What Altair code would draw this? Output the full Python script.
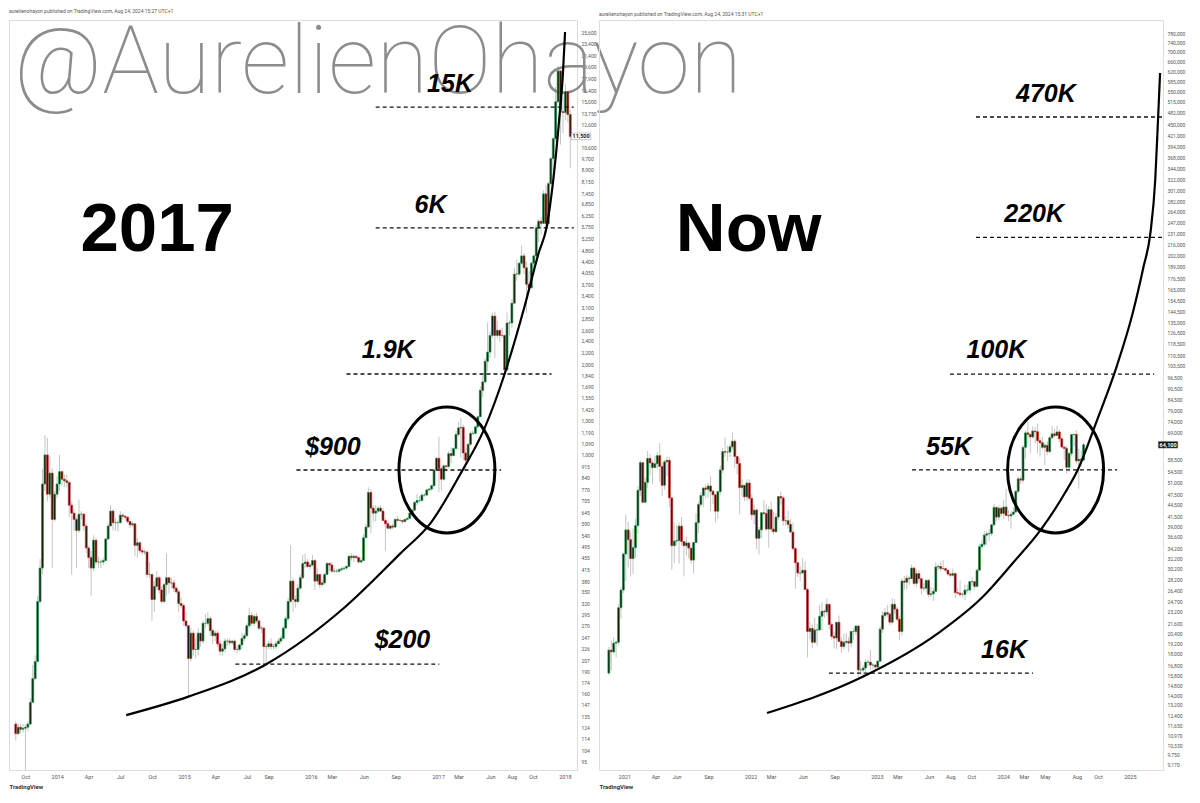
import math
import altair as alt
import pandas as pd

# ---------------- LEFT PANEL: BTC weekly candles, first week 2013-09-02 ----------------
L_START = "2013-09-02"
L_FIRST_OPEN = 127
L_CLOSE = [
    118, 124, 122, 123, 124, 127, 150, 180, 205, 325, 420, 800, 1000, 740, 870, 610, 740, 800,
    880, 830, 820, 810, 680, 640, 610, 560, 635, 635, 580, 490, 455, 420, 520, 440, 440, 440, 445, 525, 580,
    650, 595, 595, 595, 630, 625, 620, 600, 585, 590, 500, 510, 480, 475, 475, 400, 400, 330, 365, 390, 355, 325,
    370, 390, 375, 375, 360, 350, 320, 315, 280,
    270, 210, 255, 225, 225, 255, 240, 275, 275, 285, 260, 250, 255, 235, 222, 226, 240, 240, 237, 240, 225,
    225, 233, 245, 250, 270, 292, 275, 290, 280, 265, 265, 230, 230, 235, 230, 230, 235, 240, 245, 265, 285, 325,
    380, 330, 325, 360, 390, 435, 440, 425, 430,
    445, 380, 400, 370, 375, 400, 435, 430, 410, 410, 410, 415, 418, 420, 425, 460, 455, 460, 455, 440, 445, 530,
    575, 750, 665, 640, 650, 665, 650, 605, 590, 570, 580, 575, 610, 605, 605, 600, 610, 615, 640, 655, 695, 705,
    705, 735, 735, 765, 770, 790, 890, 975,
    900, 830, 920, 915, 1010, 995, 1050, 1170, 1230, 1235, 1015, 960, 1085, 1180, 1180, 1240, 1340,
    1640, 1750, 2050, 2200, 2500, 2900, 2500, 2600, 2500, 2500, 1920, 2750, 2750, 3200, 4000, 4000, 4350, 4600,
    4200, 3700, 3600, 4350, 4600, 5700, 6000, 5900, 7400, 5900, 8000, 9700, 11300, 15000, 19000, 13900, 13800,
    16200, 13600, 11500,
]
L_HIGH = [
    130, 128, 127, 127, 127, 130, 155, 200, 215, 340, 450, 900, 1165, 1140, 990, 900, 760, 850,
    1000, 880, 860, 860, 820, 700, 660, 620, 710, 650, 640, 590, 500, 480, 540, 530, 460, 450, 455, 530, 595,
    680, 660, 615, 605, 650, 640, 630, 625, 600, 600, 585, 530, 515, 490, 485, 480, 440, 400, 380, 410, 395, 365,
    375, 470, 390, 390, 385, 365, 355, 335, 320,
    300, 270, 265, 260, 245, 265, 255, 280, 295, 300, 290, 265, 260, 260, 240, 235, 245, 245, 245, 242, 243,
    232, 235, 255, 255, 275, 310, 300, 295, 298, 285, 270, 268, 235, 240, 245, 235, 240, 245, 250, 270, 290, 335,
    500, 390, 340, 370, 400, 465, 470, 450, 440,
    465, 450, 420, 400, 385, 405, 440, 440, 440, 420, 418, 420, 425, 425, 430, 465, 470, 465, 460, 455, 455, 545,
    590, 780, 770, 680, 680, 675, 680, 665, 615, 600, 585, 590, 615, 625, 612, 608, 612, 620, 645, 660, 700, 740,
    730, 750, 745, 770, 775, 795, 900, 980,
    1150, 910, 930, 925, 1030, 1060, 1060, 1200, 1290, 1330, 1260, 1060, 1100, 1200, 1210, 1250, 1350,
    1690, 1850, 2100, 2760, 2580, 2980, 3000, 2800, 2600, 2650, 2500, 2980, 2800, 3300, 4200, 4480, 4390, 4980,
    4700, 4400, 4100, 4400, 4650, 5850, 6100, 6200, 7600, 7900, 8100, 9800, 11400, 16800, 19700, 19100, 15500,
    17200, 16300, 14100,
]
L_LOW = [
    112, 117, 118, 119, 86, 120, 126, 150, 178, 205, 320, 400, 760, 700, 720, 420, 600, 720,
    760, 790, 780, 780, 620, 400, 560, 420, 550, 610, 560, 470, 420, 340, 410, 430, 420, 420, 430, 445, 520,
    580, 560, 560, 555, 590, 610, 605, 590, 570, 575, 460, 455, 470, 465, 465, 390, 390, 280, 300, 355, 345, 320,
    320, 340, 345, 360, 350, 345, 300, 310, 270,
    265, 155, 205, 215, 210, 215, 230, 235, 265, 270, 250, 235, 240, 230, 215, 215, 220, 232, 232, 233, 222,
    218, 222, 225, 240, 248, 265, 270, 270, 275, 260, 255, 195, 200, 225, 225, 225, 225, 235, 235, 245, 265, 280,
    320, 300, 310, 320, 355, 385, 420, 420, 415,
    425, 355, 370, 360, 365, 370, 400, 410, 405, 405, 405, 405, 410, 415, 415, 425, 445, 440, 450, 435, 435, 445,
    535, 575, 550, 600, 600, 640, 645, 600, 480, 565, 565, 565, 570, 600, 600, 590, 595, 605, 610, 630, 650, 680,
    695, 700, 725, 730, 755, 760, 785, 880,
    750, 760, 820, 880, 900, 940, 990, 1045, 1150, 980, 960, 890, 940, 1070, 1160, 1170, 1230,
    1340, 1560, 1730, 1900, 2100, 2450, 2100, 2450, 2380, 2450, 1840, 1900, 2500, 2650, 3200, 3800, 3950, 4300,
    4000, 2970, 3500, 3600, 4150, 4550, 5100, 5400, 5900, 5500, 5800, 7900, 8800, 11000, 14800, 10800, 11800,
    13000, 12800, 9000,
]

# ---------------- RIGHT PANEL: BTC weekly candles, first week 2020-11-16 ----------------
R_START = "2020-11-16"
R_FIRST_OPEN = 16000
R_CLOSE = [
    18400, 18200, 19200, 19300, 23800, 26500, 33000,
    38200, 36000, 32100, 34300, 39200, 48600, 57500, 45200, 51000, 59000, 57400, 55800, 57100,
    60000, 56200, 50100, 57800, 58300, 46400, 34700, 35700, 35800, 39100, 35600, 34700, 35300,
    34200, 31800, 35400, 39900, 44600, 47100, 49300, 48900, 49900, 48300, 47300, 42800, 48200,
    55000, 61500, 61300, 61300, 63300, 65500, 59700, 57200, 49400, 50100, 46700, 50800, 46300,
    41900, 43100, 36300, 38200, 42400, 42200, 38400, 43200, 38400, 37800, 41300, 46800, 46400,
    40400, 40400, 39500, 37700, 34100, 31300, 29400, 29400, 29900, 26600, 20600, 21000, 19300,
    20800, 20800, 22600, 23300, 23200, 24300, 21500, 20000, 19800, 21800, 19400, 18800, 19300,
    19400, 19200, 20600, 20600, 21300, 16300, 16300, 16500, 17100, 17100, 16800, 16800, 16600,
    17200, 20900, 22700, 23100, 22900, 21800, 24300, 23600, 22200, 20600, 28000, 27800, 28500,
    28400, 30300, 27600, 29300, 28400, 26800, 26800, 28100, 25800, 25900, 26300, 30500, 30600,
    30200, 30200, 29900, 29200, 29000, 29300, 26100, 26000, 25800, 25800, 26500, 26500, 27900,
    27900, 27100, 29900, 34500, 35000, 37000, 37300, 37400, 39400, 43800, 41300, 43600, 42200,
    43900, 41700, 41600, 42000, 42600, 48300, 52100, 51700, 63100, 68900, 68300, 67200, 69700,
    69400, 65700, 64900, 63100, 63900, 61500, 66900, 68500, 67800, 69300, 66500, 63200, 62700,
    55900, 60800, 68200, 68300, 58100, 58700, 58400, 64100,
]
R_HIGH = [
    18800, 19500, 19900, 19500, 24300, 27000, 33300,
    42000, 40100, 37800, 38500, 40900, 49700, 58300, 57500, 52600, 61700, 60600, 58400, 60000,
    61200, 64800, 57500, 58400, 59600, 59500, 46600, 40000, 39400, 40000, 41300, 35700, 36600,
    35000, 34000, 35500, 42300, 45300, 48100, 49400, 50500, 51000, 52900, 48800, 47300, 48500,
    56600, 62900, 67000, 63700, 64300, 69000, 66300, 59600, 59200, 51900, 50100, 51900, 52000,
    47500, 44500, 43500, 38900, 42600, 45800, 44700, 44100, 45400, 42600, 42300, 47000, 48200,
    47000, 41500, 42900, 40800, 40000, 34400, 31300, 30600, 32200, 31600, 26900, 21800, 21500,
    22400, 21600, 24200, 24600, 23600, 25200, 24400, 21800, 20600, 21800, 22700, 19900, 20300,
    20400, 19900, 20700, 21000, 21400, 21400, 17200, 16800, 17400, 17400, 18400, 17000, 16900,
    17300, 21300, 23300, 23800, 24200, 23200, 25200, 25100, 23900, 22600, 28400, 28900, 29100,
    28800, 31000, 30500, 30000, 29900, 28500, 27600, 28300, 28400, 27000, 26800, 31400, 31000,
    31500, 31800, 30400, 30000, 29500, 30200, 29500, 26800, 28100, 26100, 27400, 27400, 28000,
    28600, 28000, 30200, 35200, 35900, 38000, 37900, 38400, 39600, 44700, 44000, 44300, 43800,
    45900, 49000, 43200, 42800, 43800, 48600, 52800, 52900, 64000, 69900, 73800, 68200, 71700,
    71300, 72800, 66900, 67200, 64700, 65500, 67700, 71900, 70600, 71900, 70200, 67000, 63400,
    63800, 61300, 68400, 68500, 70100, 62700, 61800, 65000,
]
R_LOW = [
    15800, 16300, 18000, 17600, 19000, 22300, 26000,
    28000, 30400, 28800, 29200, 32300, 37300, 47000, 44900, 45000, 49300, 53200, 50400, 55500,
    55500, 51200, 47000, 48800, 53000, 43800, 30000, 31200, 34700, 31100, 34800, 28800, 32700,
    32100, 31100, 29300, 35200, 37500, 43800, 43900, 46300, 46500, 42800, 44700, 40000, 40800,
    47200, 53900, 59600, 58000, 59400, 62300, 55600, 53500, 42000, 46800, 45500, 45500, 45700,
    40600, 39600, 34000, 32900, 36300, 41700, 38000, 34300, 37600, 37200, 37500, 40500, 44500,
    39200, 39200, 38600, 37600, 33700, 26700, 28700, 28000, 29300, 26600, 17600, 19700, 18600,
    19100, 18900, 20700, 20700, 22400, 22700, 20800, 19600, 18600, 18500, 19300, 18100, 18500,
    19000, 18200, 18700, 19600, 20200, 15600, 15800, 15500, 16100, 16700, 16300, 16400, 16300,
    16500, 17100, 20400, 22300, 22500, 21400, 21500, 22900, 21900, 19600, 20100, 26600, 26600,
    27300, 28300, 27200, 27000, 27700, 25800, 26300, 26100, 25400, 25400, 24800, 26200, 29900,
    29700, 29900, 29600, 28900, 28600, 28800, 25200, 25800, 25400, 25400, 24900, 26100, 26000,
    27200, 26600, 27100, 29800, 34000, 34500, 34800, 35700, 36900, 39000, 40200, 40500, 41500,
    40800, 41500, 40300, 38500, 41800, 42300, 47700, 50600, 50900, 59000, 64500, 60800, 66500,
    64500, 60700, 59600, 62300, 56500, 60200, 60800, 66300, 67100, 67600, 65100, 63200, 58400,
    53700, 54300, 59900, 63600, 57100, 49100, 56100, 57800,
]

# ---------------- annotations ----------------
L_LEVEL_PRICE = [14400, 5700, 1860, 891, 201]
L_LEVEL_START = ["2016-07-04", "2016-07-04", "2016-04-11", "2015-11-19", "2015-05-27"]
L_LEVEL_END = ["2018-01-25", "2018-01-25", "2017-11-22", "2017-06-30", "2017-01-03"]
L_LABEL = ["15K", "6K", "1.9K", "$900", "$200"]
L_LABEL_DATE = ["2017-02-03", "2016-12-09", "2016-08-09", "2016-03-03", "2016-09-19"]
L_LABEL_PRICE = [16160, 6390, 2100, 999, 227]
L_CURVE_DATE = ["2014-07-17", "2015-01-14", "2015-08-24", "2016-04-06", "2016-09-14", "2016-12-09",
                "2017-03-11", "2017-05-11", "2017-07-11", "2017-09-05", "2017-10-16", "2017-11-08",
                "2017-11-27", "2017-12-14", "2017-12-25", "2017-12-31"]
L_CURVE_PRICE = [136, 157, 201, 311, 471, 593, 890, 1210, 1874, 3108, 4703, 5740, 8228, 13035, 18690, 25600]
L_CIRCLE_DATE = ["2017-01-25"]
L_CIRCLE_PRICE = [891]
L_BIG = ["2017"]
L_BIG_DATE = ["2014-10-14"]
L_BIG_PRICE = [4772]
L_LAST = ["11,500"]
L_LAST_DATE = ["2018-02-15"]
L_LAST_PRICE = [11500]

R_LEVEL_PRICE = [470000, 226000, 98500, 55000, 16000]
R_LEVEL_START = ["2023-10-13", "2023-10-13", "2023-07-30", "2023-04-11", "2022-08-14"]
R_LEVEL_END = ["2025-04-20", "2025-04-20", "2025-03-11", "2024-11-24", "2024-03-26"]
R_LABEL = ["470K", "220K", "100K", "55K", "16K"]
R_LABEL_DATE = ["2024-05-02", "2024-03-29", "2023-12-11", "2023-07-27", "2024-01-02"]
R_LABEL_PRICE = [515000, 248000, 108600, 60200, 17530]
R_CURVE_DATE = ["2022-02-16", "2022-11-12", "2023-06-26", "2023-11-01", "2024-01-27", "2024-04-17",
                "2024-06-26", "2024-08-02", "2024-09-27", "2024-11-22", "2025-01-08", "2025-02-08",
                "2025-02-28", "2025-03-14", "2025-03-22", "2025-03-28"]
R_CURVE_PRICE = [12550, 15520, 20400, 25400, 31200, 38200, 47800, 55000, 74500, 102800, 142800, 188800,
                 232000, 320400, 461500, 614000]
R_CIRCLE_DATE = ["2024-05-30"]
R_CIRCLE_PRICE = [55000]
R_BIG = ["Now"]
R_BIG_DATE = ["2021-12-25"]
R_BIG_PRICE = [208100]
R_LAST = ["64,100"]
R_LAST_DATE = ["2025-04-20"]
R_LAST_PRICE = [64100]

WATERMARK = ["@AurelienOhayon"]
WATERMARK_DATE = ["2013-08-28"]
WATERMARK_PRICE = [16036]

L_HEADER = "aurelienohayon published on TradingView.com, Aug 24, 2024 15:27 UTC+1"
R_HEADER = "aurelienohayon published on TradingView.com, Aug 24, 2024 15:31 UTC+1"

# time-axis tick labels
L_XTICK_DATE = ["2013-10-01", "2014-01-01", "2014-04-01", "2014-07-01", "2014-10-01", "2015-01-01",
                "2015-04-01", "2015-07-01", "2015-09-01", "2016-01-01", "2016-03-01", "2016-06-01",
                "2016-09-01", "2017-01-01", "2017-03-01", "2017-06-01", "2017-08-01", "2017-10-01",
                "2018-01-01"]
L_XTICK_TEXT = ["Oct", "2014", "Apr", "Jul", "Oct", "2015", "Apr", "Jul", "Sep", "2016", "Mar", "Jun",
                "Sep", "2017", "Mar", "Jun", "Aug", "Oct", "2018"]
R_XTICK_DATE = ["2021-01-01", "2021-04-01", "2021-06-01", "2021-09-01", "2022-01-01", "2022-03-01",
                "2022-06-01", "2022-09-01", "2023-01-01", "2023-03-01", "2023-06-01", "2023-08-01",
                "2023-10-01", "2024-01-01", "2024-03-01", "2024-05-01", "2024-08-01", "2024-10-01",
                "2025-01-01"]
R_XTICK_TEXT = ["2021", "Apr", "Jun", "Sep", "2022", "Mar", "Jun", "Sep", "2023", "Mar", "Jun", "Aug",
                "Oct", "2024", "Mar", "May", "Aug", "Oct", "2025"]
# price-axis tick labels
L_YTICK = [25600, 23400, 21400, 19600, 17900, 16400, 15000, 13750, 12600, 10600, 9700, 8900, 8150,
           7450, 6850, 6250, 5750, 5250, 4800, 4400, 4050, 3700, 3400, 3100, 2850, 2600, 2400, 2200, 2000,
           1840, 1690, 1550, 1420, 1300, 1190, 1090, 1000, 915, 840, 770, 705, 645, 590, 540, 495, 455,
           415, 380, 350, 320, 295, 270, 247, 226, 207, 190, 174, 160, 147, 135, 124, 114, 104, 95]
R_YTICK = [780000, 740000, 700000, 660000, 620000, 585000, 550000, 515000, 482000, 450000, 421000,
           394000, 368000, 344000, 322000, 301000, 282000, 264000, 247000, 231000, 216000, 202000,
           189000, 176500, 165000, 154500, 144500, 135000, 126500, 118500, 110500, 103500, 96500,
           90500, 84500, 79000, 74000, 69000, 58500, 54500, 51000, 47500, 44500, 41500,
           39000, 36600, 34200, 32200, 30200, 28200, 26400, 24700, 23200, 21600, 20400, 19200, 18000,
           16800, 15800, 14800, 14000, 13200, 12400, 11650, 10970, 10330, 9750, 9170]

L_XDOMAIN = ["2013-08-28", "2018-01-20"]
R_XDOMAIN = ["2020-11-02", "2025-03-22"]
L_YDOMAIN = [89.3, 28070]
R_YDOMAIN = [8877, 847600]
PLOT_H = 750
L_W, R_W, GAP = 568, 564, 22

ELLIPSE = ("M0.762,0C0.762,-0.552,0.421,-1,0,-1C-0.421,-1,-0.762,-0.552,-0.762,0"
           "C-0.762,0.552,-0.421,1,0,1C0.421,1,0.762,0.552,0.762,0Z")


def make_candles(start, first_open, close, high, low):
    dates = pd.date_range(start, periods=len(close), freq="7D")
    opens = [first_open] + list(close[:-1])
    return pd.DataFrame({
        "date": dates.strftime("%Y-%m-%d"),
        "open": opens, "close": close, "high": high, "low": low,
        "dir": ["up" if c >= o else "down" for o, c in zip(opens, close)],
    })


def panel(cdl, xdom, ydom, xt_d, xt_t, yticks, lv_p, lv_s, lv_e, lb, lb_d, lb_p, cv_d, cv_p,
          el_d, el_p, big, big_d, big_p, last, last_d, last_p, last_dark, header, w, h,
          watermark=False):
    xs = alt.Scale(domain=xdom)
    ys = alt.Scale(type="log", domain=ydom, nice=False)
    xa = alt.Axis(labels=False, title="TradingView", titleAnchor="start",
                  titleFontSize=6, titleFontWeight="bold", titleColor="#333", titlePadding=13,
                  titleFont="Roboto", ticks=False, domain=False, grid=False)
    ya = alt.Axis(orient="right", values=yticks, format=",.0f", labelFontSize=5,
                  labelFont="Roboto", labelColor="#555", ticks=False, domain=False, grid=False,
                  title=None, labelPadding=4, labelOverlap=False)
    base = alt.Chart(cdl)
    wick = base.mark_rule(color="#bdbdbd", strokeWidth=0.9, clip=True).encode(
        x=alt.X("date:T", scale=xs, axis=xa),
        y=alt.Y("low:Q", scale=ys, axis=ya), y2="high:Q")
    body = base.mark_bar(width=1.9, fill="#151515", strokeWidth=0.7, clip=True).encode(
        x="date:T", y="open:Q", y2="close:Q",
        stroke=alt.Stroke("dir:N", scale=alt.Scale(domain=["up", "down"],
                                                   range=["#1f9a45", "#e0302a"]), legend=None))
    # x tick labels just under the plot area (6.5 px below the bottom edge)
    px_per_ln = h / math.log(ydom[1] / ydom[0])
    xl_price = ydom[0] * math.exp(-6.5 / px_per_ln)
    xlab = alt.Chart(pd.DataFrame({"date": xt_d, "t": xt_t, "price": [xl_price] * len(xt_d)})
                     ).mark_text(font="Roboto", fontSize=5.5, color="#555", align="center",
                                 baseline="middle").encode(x="date:T", y="price:Q", text="t:N")
    lvl = alt.Chart(pd.DataFrame({"price": lv_p, "start": lv_s, "end": lv_e})).mark_rule(
        color="#111", strokeWidth=1.3, strokeDash=[4, 3], clip=True).encode(
        x="start:T", x2="end:T", y="price:Q")
    crv = alt.Chart(pd.DataFrame({"date": cv_d, "price": cv_p})).mark_line(
        color="#000", strokeWidth=2.2, interpolate="monotone").encode(x="date:T", y="price:Q")
    ell = alt.Chart(pd.DataFrame({"date": el_d, "price": el_p})).mark_point(
        shape=ELLIPSE, size=15876, filled=False, color="#000", strokeWidth=3, opacity=1).encode(
        x="date:T", y="price:Q")
    lab = alt.Chart(pd.DataFrame({"label": lb, "date": lb_d, "price": lb_p})).mark_text(
        font="Liberation Sans", fontSize=25, fontWeight="bold", fontStyle="italic",
        align="center", baseline="alphabetic", color="#000").encode(
        x="date:T", y="price:Q", text="label:N")
    bigt = alt.Chart(pd.DataFrame({"label": big, "date": big_d, "price": big_p})).mark_text(
        font="Liberation Sans", fontSize=69, fontWeight="bold", align="center",
        baseline="alphabetic", color="#000").encode(x="date:T", y="price:Q", text="label:N")
    lastdf = pd.DataFrame({"label": last, "date": last_d, "price": last_p})
    lastbox = alt.Chart(lastdf).mark_text(
        font="Roboto", fontSize=5.5, fontWeight="bold", align="center", baseline="middle",
        color="#ffffff" if last_dark else "#222").encode(x="date:T", y="price:Q", text="label:N")
    lastbg = alt.Chart(lastdf).mark_point(
        shape="M-1,-0.34L1,-0.34L1,0.34L-1,0.34Z", size=380, filled=True,
        fill="#111" if last_dark else "#ffffff", stroke="#888", strokeWidth=0.5,
        opacity=1).encode(x="date:T", y="price:Q")
    layers = [wick, body, xlab, lvl, crv, ell, lab, bigt, lastbg, lastbox]
    if watermark:
        wm = alt.Chart(pd.DataFrame({"t": WATERMARK, "date": WATERMARK_DATE,
                                     "price": WATERMARK_PRICE})).mark_text(
            font="Roboto", fontWeight=100, fontSize=95, color="#8c8c8c", align="left",
            baseline="alphabetic").encode(x="date:T", y="price:Q", text="t:N")
        layers = [wick, wm] + layers[1:]
    return alt.layer(*layers).properties(
        width=w, height=h,
        title=alt.TitleParams(header, fontSize=5, font="Roboto", color="#555", anchor="start",
                              fontWeight="normal", offset=3))


left_df = make_candles(L_START, L_FIRST_OPEN, L_CLOSE, L_HIGH, L_LOW)
right_df = make_candles(R_START, R_FIRST_OPEN, R_CLOSE, R_HIGH, R_LOW)

left = panel(left_df, L_XDOMAIN, L_YDOMAIN, L_XTICK_DATE, L_XTICK_TEXT, L_YTICK, L_LEVEL_PRICE,
             L_LEVEL_START, L_LEVEL_END, L_LABEL, L_LABEL_DATE, L_LABEL_PRICE, L_CURVE_DATE,
             L_CURVE_PRICE, L_CIRCLE_DATE, L_CIRCLE_PRICE, L_BIG, L_BIG_DATE, L_BIG_PRICE,
             L_LAST, L_LAST_DATE, L_LAST_PRICE, False, L_HEADER, L_W, PLOT_H, watermark=True)
right = panel(right_df, R_XDOMAIN, R_YDOMAIN, R_XTICK_DATE, R_XTICK_TEXT, R_YTICK, R_LEVEL_PRICE,
              R_LEVEL_START, R_LEVEL_END, R_LABEL, R_LABEL_DATE, R_LABEL_PRICE, R_CURVE_DATE,
              R_CURVE_PRICE, R_CIRCLE_DATE, R_CIRCLE_PRICE, R_BIG, R_BIG_DATE, R_BIG_PRICE,
              R_LAST, R_LAST_DATE, R_LAST_PRICE, True, R_HEADER, R_W, PLOT_H)

chart = alt.hconcat(left, right, spacing=GAP, bounds="flush").properties(
    padding={"left": 0, "top": 0, "right": 0, "bottom": 0}
).configure_view(stroke="#e6e6e6").configure(background="white")

chart.save("out.html", embed_options={"renderer": "svg", "actions": False})
